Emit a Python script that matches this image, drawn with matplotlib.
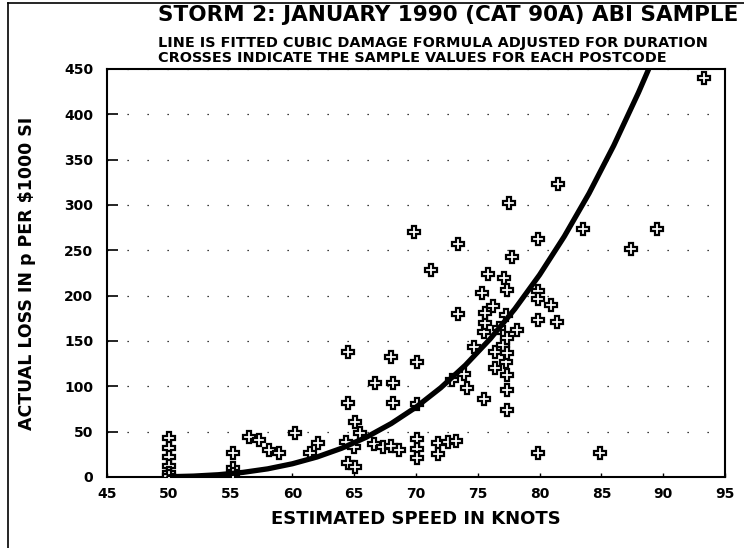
import matplotlib
matplotlib.use('Agg')
import matplotlib.pyplot as plt
from matplotlib.lines import Line2D
import numpy as np

# sample values for each postcode (speed in knots, loss in p per $1000 SI)
speed = [50.0, 50.0, 50.0, 50.0, 50.0, 50.0,
         55.2, 55.2, 55.2,
         56.5, 57.3, 58.1, 58.9, 60.2, 61.4, 62.1,
         64.3, 64.5, 64.5, 65.0, 65.1, 65.5, 64.5, 65.1,
         66.7, 66.6, 67.3, 68.0, 68.6, 68.0, 68.1, 68.1,
         70.1, 70.1, 70.1, 70.1, 70.1, 69.8, 71.2,
         71.8, 71.8, 72.6, 73.2, 72.9, 73.4, 73.4, 73.9, 74.1, 74.7,
         75.3, 75.5, 75.5, 75.6, 75.6, 75.8, 76.2, 76.4, 76.4, 76.7,
         77.0, 77.1, 77.3, 77.3, 77.4, 77.4, 77.4, 77.4, 77.4, 77.4,
         77.5, 77.8, 78.2,
         79.9, 79.9, 79.9, 79.9, 80.9, 81.4, 81.5, 79.9,
         83.5, 84.9, 87.4, 89.5, 93.3]
loss = [43, 32, 22, 12, 4, 1,
        26, 10, 3,
        44, 41, 30, 26, 48, 27, 37,
        39, 138, 82, 33, 61, 48, 15, 11,
        104, 36, 33, 34, 30, 132, 104, 82,
        127, 80, 42, 31, 21, 270, 228,
        37, 25, 39, 40, 107, 257, 180, 114, 98, 143,
        203, 86, 160, 170, 181, 224, 189, 138, 120, 164,
        146, 220, 179, 127, 206, 153, 137, 112, 96, 74,
        302, 243, 162,
        263, 205, 196, 173, 190, 171, 323, 26,
        273, 27, 252, 274, 440]

# fitted cubic damage curve
curve_speed = [50, 52, 54, 56, 58, 60, 62, 64, 66, 68, 70,
               72, 74, 76, 78, 80, 82, 84, 86, 88, 89]
curve_loss = [0.3, 1.0, 2.5, 5.1, 9.0, 14.6, 22.1, 31.8, 44.0, 59.0, 77.0,
              98.4, 123.4, 152.3, 185.4, 223.0, 265.4, 312.8, 365.6, 424.0, 455.4]

x_ticks = [45, 50, 55, 60, 65, 70, 75, 80, 85, 90, 95]
y_ticks = [0, 50, 100, 150, 200, 250, 300, 350, 400, 450]

title = 'STORM 2: JANUARY 1990 (CAT 90A) ABI SAMPLE'
sub1 = 'LINE IS FITTED CUBIC DAMAGE FORMULA ADJUSTED FOR DURATION'
sub2 = 'CROSSES INDICATE THE SAMPLE VALUES FOR EACH POSTCODE'

plt.rcParams['font.family'] = ['DejaVu Sans']
plt.rcParams['font.weight'] = 'bold'

fig = plt.figure(figsize=(7.44, 5.48), dpi=100)
ax = fig.add_axes([107 / 744, 1 - 477 / 548, (725 - 107) / 744, (477 - 69) / 548])

ax.plot(speed, loss, linestyle='none', marker='P', markersize=8.5,
        markerfacecolor='white', markeredgecolor='black', markeredgewidth=1.6, zorder=3)
ax.plot(curve_speed, curve_loss, color='black', linewidth=3.8, zorder=4,
        solid_capstyle='round')

ax.set_xlim(45, 95)
ax.set_ylim(0, 450)
ax.set_xticks(x_ticks)
ax.set_yticks(y_ticks)
ax.set_xticklabels([str(t) for t in x_ticks], fontsize=10, fontweight='bold')
ax.set_yticklabels([str(t) for t in y_ticks], fontsize=10, fontweight='bold')
ax.tick_params(axis='y', direction='in', length=8, width=1.2, pad=10)
ax.tick_params(axis='x', direction='in', length=3, width=1.0, pad=7)

# sparse dotted guide lines, as on the scanned original
ax.yaxis.grid(True, color='black', linestyle=(0, (1, 15)), linewidth=0.9)
ax.set_axisbelow(True)

for s in ax.spines.values():
    s.set_linewidth(1.5)
    s.set_color('black')

ax.set_xlabel('ESTIMATED SPEED IN KNOTS', fontsize=13, fontweight='bold', labelpad=7)
ax.set_ylabel('ACTUAL LOSS IN p PER $1000 SI', fontsize=12.5, fontweight='bold', labelpad=20)

fig.text(158 / 744, 1 - 15 / 548, title, fontsize=15.5, fontweight='bold', ha='left', va='center')
fig.text(158 / 744, 1 - 43 / 548, sub1, fontsize=10.4, fontweight='bold', ha='left', va='center')
fig.text(158 / 744, 1 - 58 / 548, sub2, fontsize=10.4, fontweight='bold', ha='left', va='center')

# scanned page border
fig.add_artist(Line2D([8 / 744, 8 / 744], [0, 1 - 3 / 548], color='black', linewidth=1.2))
fig.add_artist(Line2D([8 / 744, 1], [1 - 3 / 548, 1 - 3 / 548], color='black', linewidth=1.2))

fig.savefig('out.png', dpi=100)
